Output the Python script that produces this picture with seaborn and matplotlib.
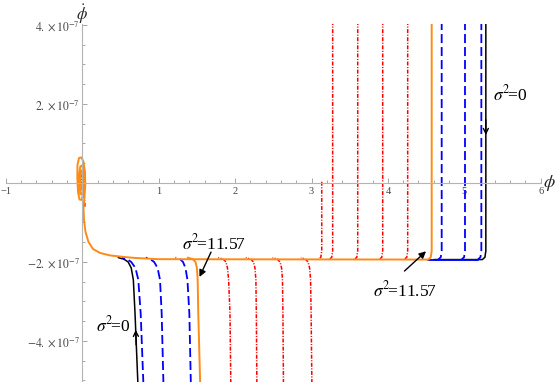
# %% Phase portrait (phi, phi-dot) -- trajectories for several sigma^2
import matplotlib
matplotlib.use("Agg")
import matplotlib.pyplot as plt
import seaborn as sns

# %% data (phi-dot values are in units of 1e-7)
# left branches: phi at each phi-dot level, coming up from the bottom
left_levels = [-5.10, -3.30, -2.45, -2.15, -2.00, -1.93, -1.89]
black_left = [0.728, 0.690, 0.668, 0.640, 0.600, 0.545, 0.47]
blue_left = [
    [0.800, 0.764, 0.733, 0.695, 0.640, 0.588, 0.52],
    [1.062, 1.039, 1.017, 0.985, 0.940, 0.890, 0.83],
    [1.421, 1.401, 1.376, 1.350, 1.318, 1.280, 1.22],
]
orange_left = [1.543, 1.518, 1.510, 1.500, 1.482, 1.445, 1.38]
red_left = [
    [1.944, 1.933, 1.915, 1.900, 1.880, 1.845, 1.78],
    [2.285, 2.278, 2.272, 2.260, 2.240, 2.205, 2.14],
    [2.633, 2.626, 2.620, 2.608, 2.588, 2.552, 2.49],
    [3.005, 2.995, 2.988, 2.975, 2.955, 2.920, 2.86],
]

# right branches: vertical drop at phi, then a knee onto the plateau
red_right = [3.134, 3.277, 3.605, 3.932, 4.259]
red_right_top = [0.03, 4.10, 4.10, 4.10, 4.10]
orange_right = 4.573
blue_right = [4.704, 5.009, 5.223]
black_right = 5.282
knee_levels = [-1.72, -1.88, -1.94]
knee_shift = [0.0, 0.012, 0.045]

# common plateau + approach + spiral into the origin
plateau_x = [1.00, 0.70]
plateau_y = [-1.93, -1.90]
spiral_x = [0.581, 0.363, 0.232, 0.140, 0.081, 0.042, 0.022, 0.016, 0.029, 0.039,
            0.035, 0.016, -0.010, -0.043, -0.063, -0.065, -0.056, -0.037, -0.010,
            0.016, 0.025, 0.016, -0.004, -0.026, -0.041, -0.039, -0.024, -0.004,
            0.012, 0.012, 0.0, -0.017, -0.024, -0.017, -0.004, 0.007]
spiral_y = [-1.881, -1.835, -1.772, -1.671, -1.494, -1.241, -0.937, -0.633, -0.329,
            -0.051, 0.278, 0.532, 0.646, 0.633, 0.456, 0.127, -0.228, -0.418, -0.430,
            -0.253, 0.076, 0.329, 0.443, 0.418, 0.203, -0.101, -0.278, -0.291,
            -0.101, 0.177, 0.329, 0.278, 0.076, -0.127, -0.165, 0.0]
red_spiral_x = [0.035, 0.022, 0.022, 0.003, -0.024, -0.030, -0.020, 0.003, 0.013,
                0.007, -0.010, -0.014, -0.004]
red_spiral_y = [-0.60, -0.177, 0.177, 0.329, 0.278, 0.051, -0.152, -0.177, 0.0,
                0.2, 0.177, 0.0, -0.076]

xticks = [-1, 1, 2, 3, 4, 5, 6]
yticks = [-4, -2, 2, 4]
ytick_labels = [r"$-4.\times10^{-7}$", r"$-2.\times10^{-7}$",
                r"$2.\times10^{-7}$", r"$4.\times10^{-7}$"]

# %% style
sns.set_theme(style="white")
plt.rcParams["font.family"] = ["Liberation Serif", "DejaVu Serif"]
plt.rcParams["mathtext.fontset"] = "stix"

BLACK, BLUE, RED, ORANGE = "black", "#0000ff", "#ff0000", "#ff8a14"
DASH = (0, (5.0, 2.2))
DASHDOT = (0, (2.6, 1.0, 0.7, 1.0))

fig = plt.figure(figsize=(5.57, 3.82), dpi=100)
ax = fig.add_axes([5.9 / 557, 0.0, 534.8 / 557, 357.8 / 382])


def line(xs, ys, color, ls="-", lw=1.2):
    sns.lineplot(x=xs, y=ys, sort=False, estimator=None, color=color,
                 linestyle=ls, lw=lw, ax=ax)


def right_path(x0, top):
    xs = [x0] + [x0 - s for s in knee_shift]
    ys = [top] + knee_levels
    return xs, ys


# black
line(black_left, left_levels, BLACK, lw=1.1)
bx, by = right_path(black_right, 4.10)
line(bx + [4.60], by + [knee_levels[-1]], BLACK, lw=1.1)

# blue
for xs in blue_left:
    line(xs, left_levels, BLUE, DASH, lw=1.3)
for x0 in blue_right:
    bx, by = right_path(x0, 4.10)
    line(bx, by, BLUE, DASH, lw=1.3)
line([blue_right[-1] - knee_shift[-1], orange_right - knee_shift[-1]],
     [knee_levels[-1], knee_levels[-1]], BLUE, lw=1.3)

# red
for xs in red_left:
    line(xs, left_levels, RED, DASHDOT, lw=1.1)
for x0, top in zip(red_right, red_right_top):
    bx, by = right_path(x0, top)
    line(bx, by, RED, DASHDOT, lw=1.1)
line(red_spiral_x, red_spiral_y, RED, DASHDOT, lw=1.1)

# orange (on top)
line(orange_left, left_levels, ORANGE, lw=1.4)
ox, oy = right_path(orange_right, 4.10)
line(ox + plateau_x + spiral_x, oy + plateau_y + spiral_y, ORANGE, lw=1.4)

# %% axes through the origin
ax.set_xlim(-1, 6)
ax.set_ylim(-5.04, 4.02)
for side in ["top", "right"]:
    ax.spines[side].set_visible(False)
for side in ["left", "bottom"]:
    ax.spines[side].set_position(("data", 0))
    ax.spines[side].set_color("#b4b4b4")
    ax.spines[side].set_linewidth(0.8)

ax.set_xticks(xticks)
ax.set_xticklabels([str(t).replace("-", "\u2212") for t in xticks])
ax.set_xticks([i * 0.2 - 1 for i in range(36)], minor=True)
ax.set_yticks(yticks)
ax.set_yticklabels(ytick_labels)
ax.set_yticks([i * 0.5 - 5 for i in range(19)], minor=True)
ax.tick_params(which="both", direction="in", color="#999999", width=0.6,
               labelcolor="#444444", left=True, bottom=True)
ax.tick_params(which="major", length=3.5)
ax.tick_params(which="minor", length=2)
ax.tick_params(axis="x", pad=3, labelsize=7.5)
ax.tick_params(axis="y", pad=1.5, labelsize=8.5)

ax.text(6.115, 0.0, r"$\phi$", fontsize=13, ha="center", va="center", clip_on=False)
fig.text(82.3 / 557, 1 - 2 / 382, r"$\dot{\phi}$", fontsize=12,
         ha="center", va="top")

# %% labels and arrows
lab = dict(fontsize=12.5, color="black")
ax.text(5.372, 2.25, r"$\sigma^2\!$=0", ha="left", va="center", **lab)
ax.text(0.626, -3.60, r"$\sigma^2\!$=0", ha="right", va="center", **lab)
ax.text(1.30, -1.53, r"$\sigma^2\!$=11.57", ha="left", va="center", **lab)
ax.text(3.80, -2.72, r"$\sigma^2\!$=11.57", ha="left", va="center", **lab)

head = dict(arrowstyle="-|>", color="black", lw=1.0, mutation_scale=10,
            shrinkA=0, shrinkB=0)
ax.annotate("", xy=(1.534, -2.38), xytext=(1.685, -1.75), arrowprops=head)
ax.annotate("", xy=(4.499, -1.73), xytext=(4.217, -2.23), arrowprops=head)

chev = dict(arrowstyle="->", color="black", lw=1.0, mutation_scale=9,
            shrinkA=0, shrinkB=0)
ax.annotate("", xy=(black_right, 1.215), xytext=(black_right, 1.6), arrowprops=chev)
ax.annotate("", xy=(0.699, -3.72), xytext=(0.705, -4.1), arrowprops=chev)

fig.savefig("out.png", dpi=100)
